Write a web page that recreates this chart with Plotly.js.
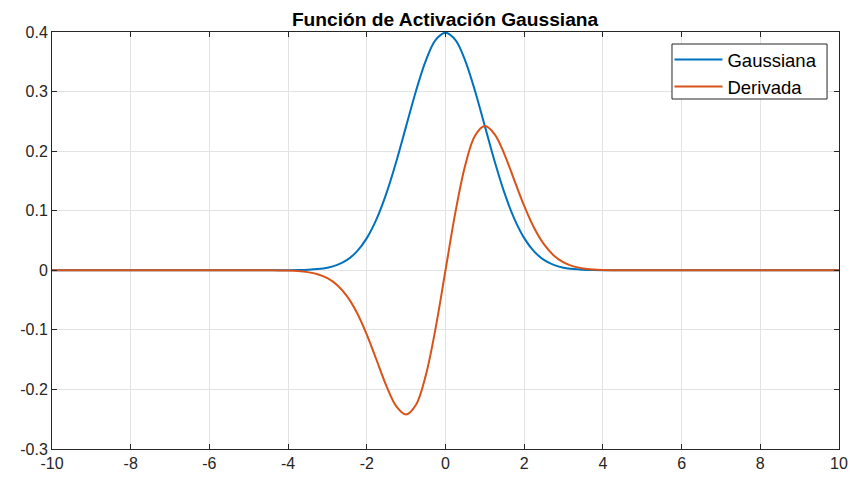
<!DOCTYPE html>
<html>
<head>
<meta charset="utf-8">
<script src="https://cdn.plot.ly/plotly-3.0.1.min.js"></script>
<style>html,body{margin:0;padding:0;background:#fff;}#chart{width:851px;height:481px;}</style>
</head>
<body>
<div id="chart"></div>
<script>
const xValues = [-10, -5, -4.75, -4.5, -4.25, -4, -3.75, -3.5, -3.25, -3, -2.75, -2.5, -2.25, -2, -1.75, -1.5, -1.25, -1, -0.75, -0.5, -0.25, 0,
  0.25, 0.5, 0.75, 1, 1.25, 1.5, 1.75, 2, 2.25, 2.5, 2.75, 3, 3.25, 3.5, 3.75, 4, 4.25, 4.5, 4.75, 5, 10];
const gaussiana = [0, 0, 0, 0, 0, 0.0001, 0.0004, 0.0009, 0.0020, 0.0044, 0.0091, 0.0175, 0.0317, 0.0540, 0.0863, 0.1295, 0.1826, 0.2420, 0.3011, 0.3521, 0.3867, 0.3989,
  0.3867, 0.3521, 0.3011, 0.2420, 0.1826, 0.1295, 0.0863, 0.0540, 0.0317, 0.0175, 0.0091, 0.0044, 0.0020, 0.0009, 0.0004, 0.0001, 0, 0, 0, 0, 0];
const derivada = [0, 0, 0, -0.0001, -0.0002, -0.0005, -0.0013, -0.0031, -0.0066, -0.0133, -0.0250, -0.0438, -0.0713, -0.1080, -0.1510, -0.1943, -0.2283, -0.2420, -0.2258, -0.1760, -0.0967, 0,
  0.0967, 0.1760, 0.2258, 0.2420, 0.2283, 0.1943, 0.1510, 0.1080, 0.0713, 0.0438, 0.0250, 0.0133, 0.0066, 0.0031, 0.0013, 0.0005, 0.0002, 0.0001, 0, 0, 0];
const xTicks = [-10, -8, -6, -4, -2, 0, 2, 4, 6, 8, 10];
const xTickText = ['-10', '-8', '-6', '-4', '-2', '0', '2', '4', '6', '8', '10'];
const yTicks = [-0.3, -0.2, -0.1, 0, 0.1, 0.2, 0.3, 0.4];
const yTickText = ['-0.3', '-0.2', '-0.1', '0', '0.1', '0.2', '0.3', '0.4'];

const traces = [
  {x: xValues, y: gaussiana, name: 'Gaussiana', mode: 'lines', line: {color: '#0072BD', width: 2, shape: 'spline', smoothing: 1}},
  {x: xValues, y: derivada, name: 'Derivada', mode: 'lines', line: {color: '#D95319', width: 2, shape: 'spline', smoothing: 1}}
];
const axisCommon = {
  showline: true, linecolor: '#262626', linewidth: 1, mirror: 'ticks',
  ticks: 'inside', ticklen: 5, tickcolor: '#262626', tickwidth: 1,
  showgrid: true, gridcolor: '#e3e3e3', gridwidth: 1, zeroline: false,
  tickfont: {family: 'Liberation Sans, Arial, sans-serif', size: 16, color: '#262626'},
  tickmode: 'array'
};
const layout = {
  width: 851, height: 481,
  margin: {l: 52, r: 12, t: 32, b: 32},
  paper_bgcolor: '#fff', plot_bgcolor: '#fff',
  title: {text: '<b>Función de Activación Gaussiana</b>', x: 0.523, xanchor: 'center', y: 0.96, yanchor: 'middle',
    font: {family: 'Liberation Sans, Arial, sans-serif', size: 19.2, color: '#000'}},
  xaxis: Object.assign({}, axisCommon, {range: [-10, 10], tickvals: xTicks, ticktext: xTickText}),
  yaxis: Object.assign({}, axisCommon, {range: [-0.3, 0.4], tickvals: yTicks, ticktext: yTickText}),
  shapes: [{type: 'rect', xref: 'paper', yref: 'paper', x0: 0.7878, x1: 0.9848, y0: 0.8393, y1: 0.9712,
    fillcolor: '#fff', line: {color: '#262626', width: 1}, layer: 'above'}],
  showlegend: true,
  legend: {x: 0.979, y: 0.9784, xanchor: 'right', yanchor: 'top', bgcolor: 'rgba(0,0,0,0)', borderwidth: 0,
    font: {family: 'Liberation Sans, Arial, sans-serif', size: 18.5, color: '#000'}, itemwidth: 48, tracegroupgap: 0}
};
Plotly.newPlot('chart', traces, layout, {displayModeBar: false, staticPlot: true});
</script>
</body>
</html>
